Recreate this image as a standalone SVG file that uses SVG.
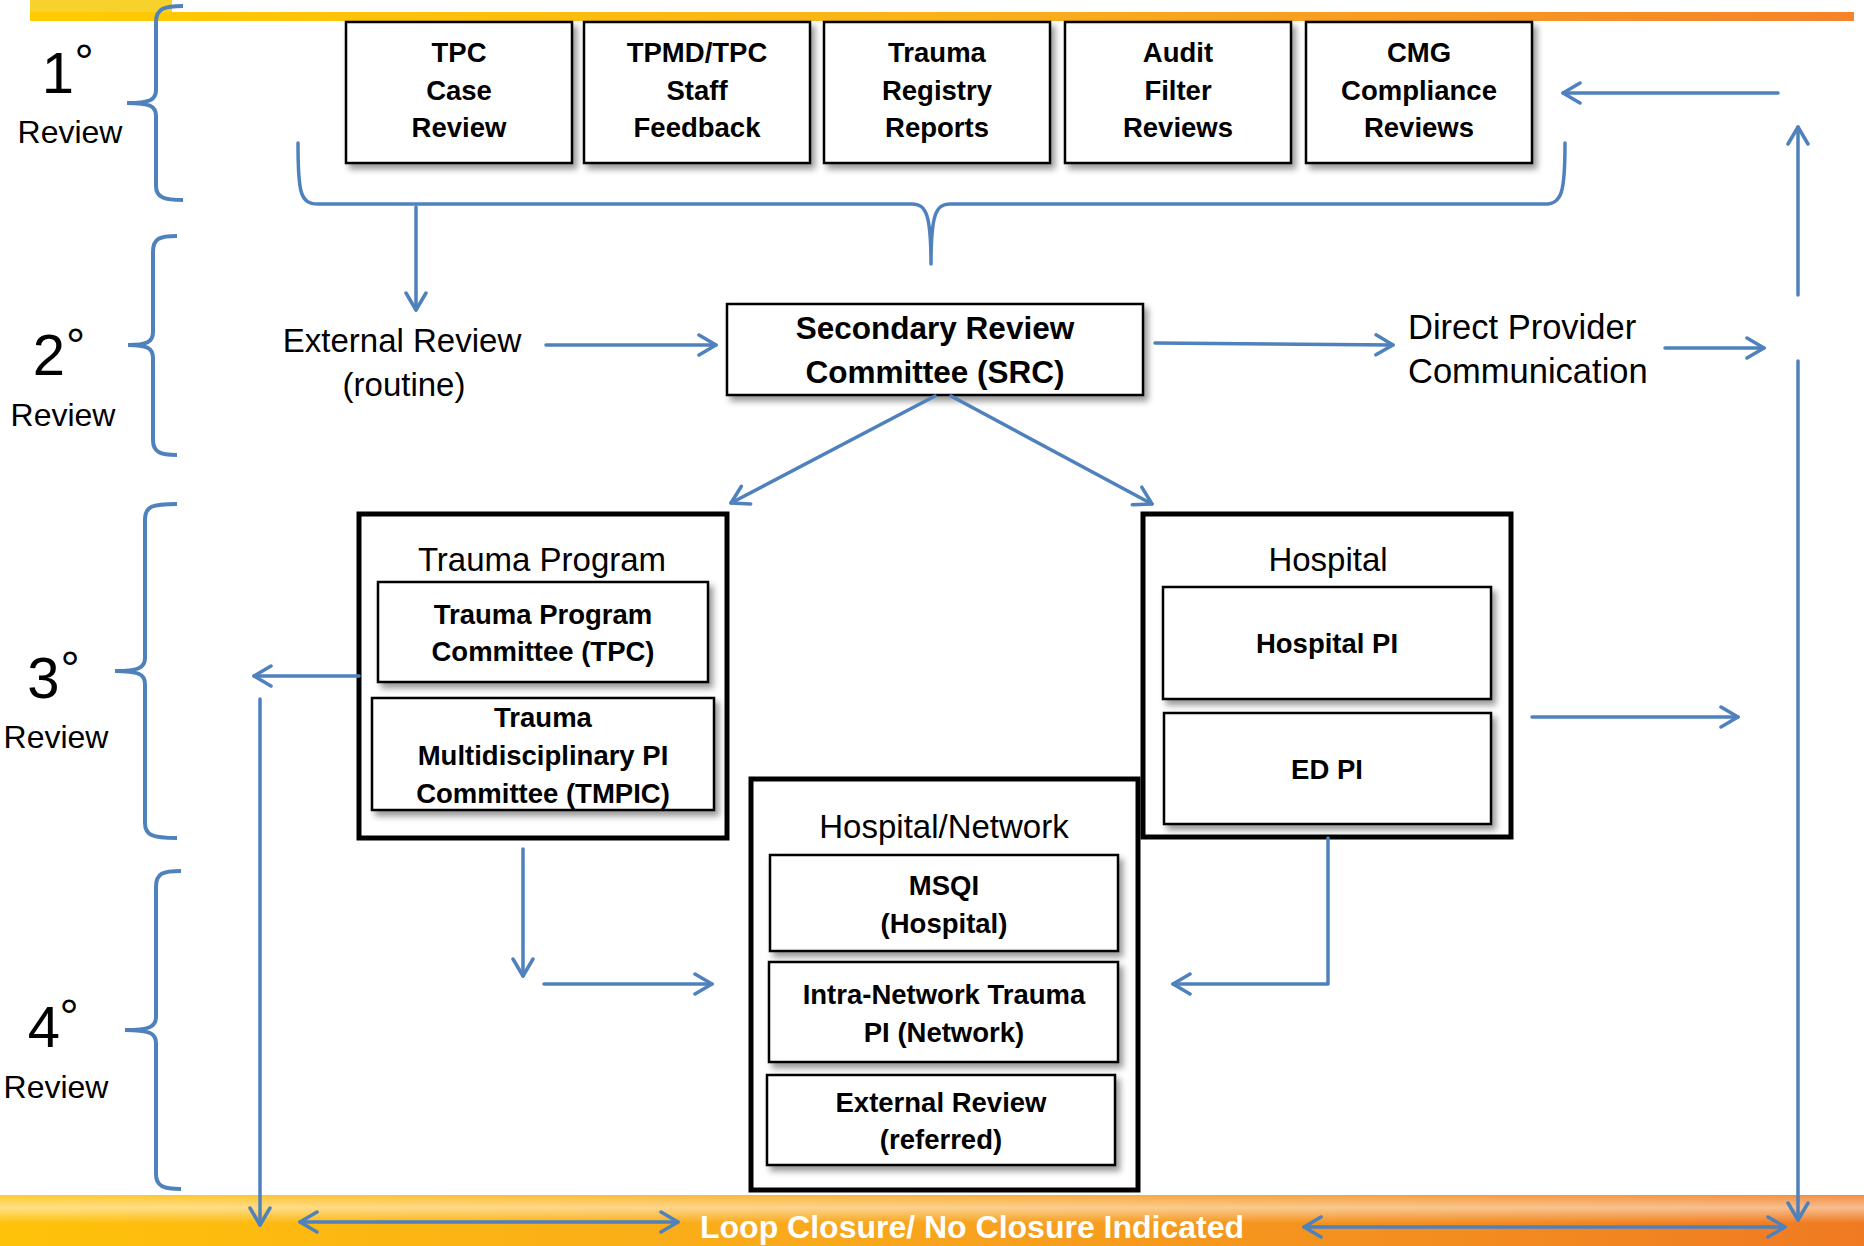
<svg xmlns="http://www.w3.org/2000/svg" width="1864" height="1246" viewBox="0 0 1864 1246">
<defs>
<linearGradient id="topbar" x1="0" y1="0" x2="1" y2="0">
<stop offset="0" stop-color="#FFCC00"/>
<stop offset="0.5" stop-color="#F9B21A"/>
<stop offset="1" stop-color="#F5832A"/>
</linearGradient>
<linearGradient id="botbar" x1="0" y1="0" x2="1" y2="0">
<stop offset="0" stop-color="#FFC20A"/>
<stop offset="0.45" stop-color="#F9A81C"/>
<stop offset="1" stop-color="#F07A22"/>
</linearGradient>
<linearGradient id="shine" x1="0" y1="0" x2="0" y2="1">
<stop offset="0" stop-color="#FFFFFF" stop-opacity="0.15"/>
<stop offset="0.25" stop-color="#FFFFFF" stop-opacity="0.5"/>
<stop offset="0.55" stop-color="#FFFFFF" stop-opacity="0"/>
<stop offset="1" stop-color="#FFFFFF" stop-opacity="0"/>
</linearGradient>
<filter id="sh" x="-10%" y="-10%" width="130%" height="130%">
<feDropShadow dx="4" dy="5" stdDeviation="3" flood-color="#000" flood-opacity="0.4"/>
</filter>
<marker id="ah" markerUnits="userSpaceOnUse" viewBox="-20 -12 24 24" refX="0" refY="0" markerWidth="24" markerHeight="24" orient="auto-start-reverse">
<path d="M-17,-10 L0,0 L-17,10" fill="none" stroke="#4F81BD" stroke-width="3.5" stroke-linecap="round" stroke-linejoin="round"/>
</marker>
<style>
.box{fill:#fff;stroke:#000;stroke-width:2.5;filter:url(#sh)}
.outer{fill:#fff;stroke:#000;stroke-width:5}
.b{font-family:"Liberation Sans",Arial,sans-serif;font-weight:bold;font-size:27.5px;fill:#000;text-anchor:middle}
.src{font-family:"Liberation Sans",Arial,sans-serif;font-weight:bold;font-size:31.5px;fill:#000;text-anchor:middle}
.r{font-family:"Liberation Sans",Arial,sans-serif;font-size:33px;fill:#000}
.m{text-anchor:middle}
.lvl{font-family:"Liberation Sans",Arial,sans-serif;font-size:58px;fill:#000;text-anchor:middle}
.deg{font-family:"Liberation Sans",Arial,sans-serif;font-size:48px;fill:#000;text-anchor:middle}
.rev{font-family:"Liberation Sans",Arial,sans-serif;font-size:32px;fill:#000;text-anchor:middle}
.ln{fill:none;stroke:#4F81BD;stroke-width:3.5;stroke-linecap:round;stroke-linejoin:round}
.ar{marker-end:url(#ah)}
.da{marker-start:url(#ah);marker-end:url(#ah)}
.br{fill:none;stroke:#4F81BD;stroke-width:4}
</style>
</defs>
<rect width="1864" height="1246" fill="#fff"/>
<!-- top bar -->
<rect x="30" y="0" width="142" height="12" fill="#F8D22C"/>
<rect x="30" y="12" width="1824" height="9" fill="url(#topbar)"/>
<!-- bottom bar -->
<rect x="0" y="1195" width="1864" height="51" fill="url(#botbar)"/>
<rect x="0" y="1195" width="1864" height="51" fill="url(#shine)"/>
<text x="700" y="1238" style="font-family:'Liberation Sans',Arial,sans-serif;font-weight:bold;font-size:32px;fill:#fff">Loop Closure/ No Closure Indicated</text>

<!-- level labels -->
<g id="level1">
<path class="br" d="M183,6 C165,6 156,8 156,22 L156,90 C156,100 150,103 127,103 C150,103 156,106 156,116 L156,186 C156,198 165,200 183,200"/>
<text class="lvl" x="58" y="93">1</text><text class="deg" x="84" y="78">°</text>
<text class="rev" x="70" y="143">Review</text>
</g>
<g id="level2">
<path class="br" d="M177,236 C160,236 153,238 153,252 L153,332 C153,342 147,345 128,345 C147,345 153,348 153,358 L153,440 C153,452 160,455 177,455"/>
<text class="lvl" x="49" y="375">2</text><text class="deg" x="75.5" y="362">°</text>
<text class="rev" x="63" y="426">Review</text>
</g>
<g id="level3">
<path class="br" d="M177,504 C152,504 145,506 145,520 L145,658 C145,668 138,671 115,671 C138,671 145,674 145,684 L145,823 C145,835 152,838 177,838"/>
<text class="lvl" x="43.5" y="698">3</text><text class="deg" x="70" y="685">°</text>
<text class="rev" x="56" y="748">Review</text>
</g>
<g id="level4">
<path class="br" d="M181,871 C163,871 156,873 156,887 L156,1017 C156,1027 149,1030 125,1030 C149,1030 156,1033 156,1043 L156,1174 C156,1186 163,1189 181,1189"/>
<text class="lvl" x="44" y="1047">4</text><text class="deg" x="69" y="1033">°</text>
<text class="rev" x="56" y="1098">Review</text>
</g>

<!-- primary review nodes -->
<g id="tpc-case-review">
<rect class="box" x="346" y="22" width="226" height="141"/>
<text class="b" x="459" y="62">TPC</text><text class="b" x="459" y="100">Case</text><text class="b" x="459" y="137">Review</text>
</g>
<g id="tpmd-feedback">
<rect class="box" x="584" y="22" width="226" height="141"/>
<text class="b" x="697" y="62">TPMD/TPC</text><text class="b" x="697" y="100">Staff</text><text class="b" x="697" y="137">Feedback</text>
</g>
<g id="registry-reports">
<rect class="box" x="824" y="22" width="226" height="141"/>
<text class="b" x="937" y="62">Trauma</text><text class="b" x="937" y="100">Registry</text><text class="b" x="937" y="137">Reports</text>
</g>
<g id="audit-filter">
<rect class="box" x="1065" y="22" width="226" height="141"/>
<text class="b" x="1178" y="62">Audit</text><text class="b" x="1178" y="100">Filter</text><text class="b" x="1178" y="137">Reviews</text>
</g>
<g id="cmg-compliance">
<rect class="box" x="1306" y="22" width="226" height="141"/>
<text class="b" x="1419" y="62">CMG</text><text class="b" x="1419" y="100">Compliance</text><text class="b" x="1419" y="137">Reviews</text>
</g>

<!-- secondary -->
<g id="external-routine">
<text class="r m" x="402" y="352">External Review</text>
<text class="r m" x="404" y="396">(routine)</text>
</g>
<g id="src">
<rect class="box" x="727" y="304" width="416" height="91"/>
<text class="src" x="935" y="339">Secondary Review</text>
<text class="src" x="935" y="383">Committee (SRC)</text>
</g>
<g id="direct-provider">
<text class="r" x="1408" y="339" style="font-size:34.5px">Direct Provider</text>
<text class="r" x="1408" y="383" style="font-size:34.5px">Communication</text>
</g>

<!-- tertiary -->
<g id="trauma-program">
<rect class="outer" x="359" y="514" width="368" height="324"/>
<text class="r m" x="542" y="571">Trauma Program</text>
<rect class="box" x="378" y="582" width="330" height="100"/>
<text class="b" x="543" y="624">Trauma Program</text>
<text class="b" x="543" y="661">Committee (TPC)</text>
<rect class="box" x="372" y="698" width="342" height="112"/>
<text class="b" x="543" y="727">Trauma</text>
<text class="b" x="543" y="765">Multidisciplinary PI</text>
<text class="b" x="543" y="803">Committee (TMPIC)</text>
</g>
<g id="hospital">
<rect class="outer" x="1143" y="514" width="368" height="323"/>
<text class="r m" x="1328" y="571">Hospital</text>
<rect class="box" x="1163" y="587" width="328" height="112"/>
<text class="b" x="1327" y="653">Hospital PI</text>
<rect class="box" x="1164" y="713" width="327" height="111"/>
<text class="b" x="1327" y="779">ED PI</text>
</g>

<!-- quaternary -->
<g id="hospital-network">
<rect class="outer" x="751" y="779" width="387" height="411"/>
<text class="r m" x="944" y="838">Hospital/Network</text>
<rect class="box" x="770" y="855" width="348" height="96"/>
<text class="b" x="944" y="895">MSQI</text>
<text class="b" x="944" y="933">(Hospital)</text>
<rect class="box" x="769" y="962" width="349" height="100"/>
<text class="b" x="944" y="1004">Intra-Network Trauma</text>
<text class="b" x="944" y="1042">PI (Network)</text>
<rect class="box" x="767" y="1075" width="348" height="90"/>
<text class="b" x="941" y="1112">External Review</text>
<text class="b" x="941" y="1149">(referred)</text>
</g>

<!-- connectors -->
<g id="connectors">
<path class="ln" d="M298,143 C298,192 300,204 318,204 L912,204 C926,204 931,214 931,264 C931,214 936,204 950,204 L1545,204 C1562,204 1565,192 1565,143"/>
<path class="ln ar" d="M416,207 L416,310"/>
<path class="ln ar" d="M546,345 L716,345"/>
<path class="ln ar" d="M1155,343 L1393,345"/>
<path class="ln ar" d="M1665,348 L1764,348"/>
<path class="ln ar" d="M1798,295 L1798,127"/>
<path class="ln ar" d="M1798,361 L1798,1220"/>
<path class="ln ar" d="M1778,93 L1563,93"/>
<path class="ln ar" d="M935,396 L731,503"/>
<path class="ln ar" d="M951,396 L1152,504"/>
<path class="ln ar" d="M359,676 L254,676"/>
<path class="ln ar" d="M260,699 L260,1225"/>
<path class="ln ar" d="M523,849 L523,976"/>
<path class="ln ar" d="M544,984 L712,984"/>
<path class="ln ar" d="M1328,838 L1328,984 L1173,984"/>
<path class="ln ar" d="M1532,717 L1738,717"/>
<path class="ln da" d="M300,1222 L678,1222"/>
<path class="ln da" d="M1304,1227 L1785,1227"/>
</g>
</svg>
